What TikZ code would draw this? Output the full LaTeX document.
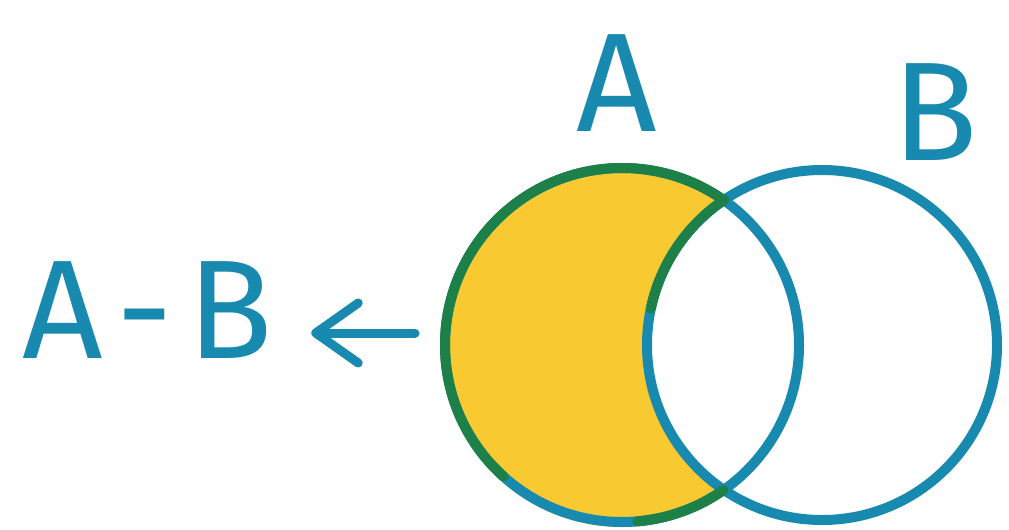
\documentclass[tikz,border=0pt]{standalone}
\usepackage{fontspec}
\setmainfont{Fira Sans}
\usetikzlibrary{arrows.meta,calc}
\definecolor{setblue}{RGB}{24,138,176}
\definecolor{setyellow}{RGB}{249,201,50}
\definecolor{setgreen}{RGB}{28,128,72}

\begin{document}
\begin{tikzpicture}[line join=round, line cap=round,
	every node/.style={font=\fontsize{80}{82}\selectfont, text=setblue, inner sep=0pt},
	ring/.style={draw=setblue, line width=0.2cm},
	overlap/.style={draw=setgreen, line width=0.2cm},
	pointer/.style={draw=setblue, line width=0.18cm, -{Straight Barb[length=0.85cm, width=1.2cm, round]}}]
	
	\useasboundingbox (0,0) rectangle (20.18,10.58);
	
	\coordinate (cA) at (12.44,3.68);
	\coordinate (cB) at (16.44,3.68);
	
	\begin{scope}
		\clip (cA) circle (3.64);
		\fill[setyellow, even odd rule] (cA) circle (3.64) (cB) circle (3.42);
	\end{scope}
	
	\draw[ring] (cA) circle (3.54);
	\draw[ring] (cB) circle (3.50);
	
	\draw[overlap] ($(cA)+(55:3.54)$) arc (55:228:3.54);
	\draw[overlap] ($(cA)+(275:3.54)$) arc (275:305:3.54);
	\draw[overlap] ($(cB)+(124:3.50)$) arc (124:168:3.50);
	
	\node (setA) at (12.34,8.92) {A};
	\node (setB) at (18.70,8.34) {B};
	\node (diff) at (2.95,4.38) {A\kern0.1em-\kern0.1em B};
	
	\coordinate (tail) at (8.30,3.92);
	\draw[pointer, shorten >=0.76cm] (tail) -- (tail -| diff.east);
	
\end{tikzpicture}
\end{document}
